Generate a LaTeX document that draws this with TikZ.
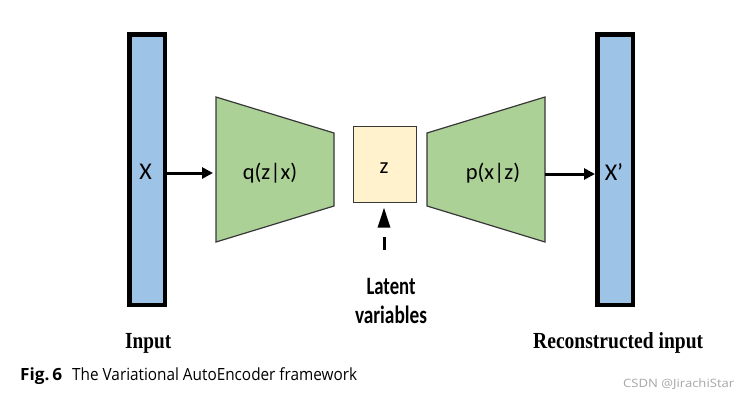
\documentclass[tikz,border=0pt]{standalone}
\usepackage{fontspec}
\usepackage{graphicx}
\setmainfont{Carlito}
\newfontfamily\serifbold{Liberation Serif}
\newfontfamily\capfont{Open Sans}
\usetikzlibrary{arrows.meta}
\definecolor{barblue}{RGB}{157,195,230}
\definecolor{encgreen}{RGB}{172,209,150}
\definecolor{latyellow}{RGB}{255,242,204}
\definecolor{edgegray}{RGB}{55,55,55}
\tikzset{
  bar/.style={draw=black, line width=4.5pt, fill=barblue, minimum width=35.5pt, minimum height=270.5pt, inner sep=0pt},
  trap/.style={draw=edgegray, line width=1.2pt, fill=encgreen},
  latbox/.style={draw=edgegray, line width=1pt, fill=latyellow, minimum width=63pt, minimum height=76pt, inner sep=0pt},
  lbl/.style={font=\fontsize{22.5}{24}\selectfont, inner sep=0pt},
  xlbl/.style={font=\fontsize{24}{26}\selectfont, inner sep=0pt},
  arr/.style={line width=3pt, -{Triangle[length=11pt,width=11pt]}},
  basew/.style={anchor=base west, inner sep=0pt},
  base/.style={anchor=base, inner sep=0pt}
}
\begin{document}
\begin{tikzpicture}[x=1pt,y=-1pt]
\useasboundingbox (0,0) rectangle (745,397);
% bars
\node[bar] (in) at (147,169.5) {};
\node[bar] (out) at (615,169.5) {};
\node[xlbl] (xl) at (145.5,172) {X};
\node[xlbl] (xr) at (614,172) {X’};
% trapezoids
\draw[trap] (216,97) -- (334,133) -- (334,206) -- (216,242) -- cycle;
\draw[trap] (427,133) -- (545,97) -- (545,242) -- (427,206) -- cycle;
\node[lbl] (q) at (270,173) {q(z|x)};
\node[lbl] (p) at (493,173) {p(x|z)};
\coordinate (qW) at (216,173);
\coordinate (pE) at (545,174);
% latent box
\node[latbox] (z) at (384.5,164) {};
\node[lbl] (zl) at (384,168) {z};
% arrows
\draw[arr, shorten >=3pt] (in.east |- qW) -- (qW);
\draw[arr] (pE) -- (out.west |- pE);
% latent label
\node[base, font=\bfseries\fontsize{25}{27}\selectfont] (lat1) at (391,294) {\resizebox{49pt}{\height}{Latent}};
\node[base, font=\bfseries\fontsize{25}{27}\selectfont] (lat2) at (391,323) {\resizebox{72pt}{\height}{variables}};
\coordinate (latS) at (384,250);
\draw[line width=3pt, dash pattern=on 13pt off 30pt, -{Triangle[length=20pt,width=12pt]}, shorten >=5pt] (latS) -- (z.south -| latS);
% bottom labels
\node[basew, font=\serifbold\bfseries\fontsize{23}{24}\selectfont] (inlbl) at (125,348) {\resizebox{46pt}{\height}{Input}};
\node[basew, font=\serifbold\bfseries\fontsize{23}{24}\selectfont] (outlbl) at (533,348) {\resizebox{170pt}{\height}{Reconstructed input}};
% caption
\node[basew, font=\capfont\bfseries\fontsize{16.8}{18}\selectfont] (fig) at (20,380) {\resizebox{42pt}{\height}{Fig.\,6}};
\node[basew, font=\capfont\fontsize{16.8}{18}\selectfont] (cap) at (72,380) {\resizebox{285pt}{\height}{The Variational AutoEncoder framework}};
\node[basew, font=\capfont\fontsize{11.5}{13}\selectfont, text=black!35] (wm) at (623,387) {\resizebox{111pt}{\height}{CSDN @JirachiStar}};
\end{tikzpicture}
\end{document}
